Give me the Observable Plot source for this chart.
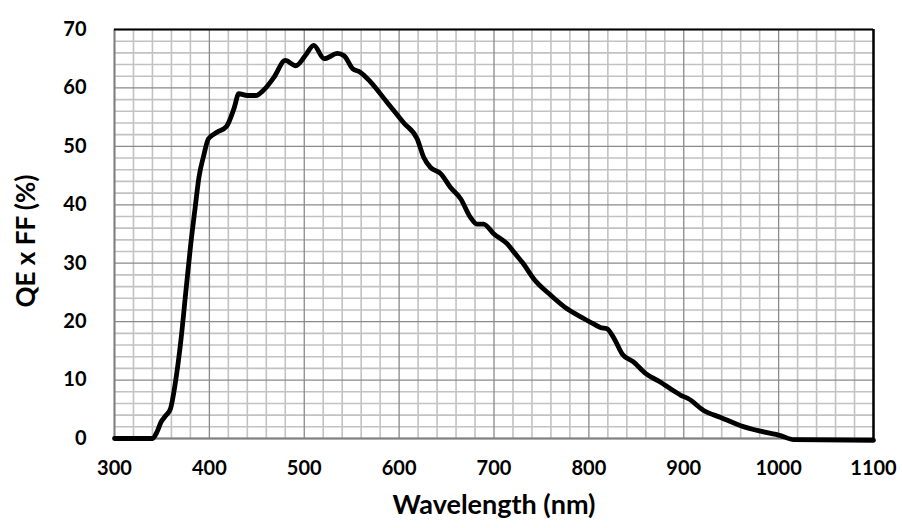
<!DOCTYPE html>
<html>
<head>
<meta charset="utf-8">
<script src="https://cdn.jsdelivr.net/npm/d3@7"></script>
<script src="https://cdn.jsdelivr.net/npm/@observablehq/plot@0.6"></script>
<style>
  html, body { margin: 0; padding: 0; background: #fff; }
</style>
</head>
<body>
<div id="chart"></div>
<script>
// Wavelength (nm) and QE x FF (%)
const wavelength = [300, 340, 345, 349, 354, 359, 364, 370, 375, 380, 385, 389, 394, 399, 408, 418, 426, 431, 440, 449, 457, 468, 480, 491, 501, 510, 521, 535, 542, 551, 559, 570, 587, 605, 619, 626, 633, 644, 654, 665, 675, 682, 689, 700, 714, 721, 731, 742, 760, 777, 795, 805, 812, 819, 826, 832, 835, 847, 860, 876, 886, 897, 905, 921, 939, 960, 981, 1002, 1016, 1100];
const qeff = [0, 0, 1.2, 2.8, 3.9, 5.1, 9.4, 16.8, 24.8, 32.7, 39.5, 44.7, 48.4, 51.3, 52.4, 53.4, 56.5, 59, 58.7, 58.7, 59.6, 61.8, 64.7, 63.8, 65.5, 67.3, 65, 65.9, 65.5, 63.3, 62.7, 61, 57.6, 54, 51.3, 48.1, 46.4, 45.3, 43, 41, 37.9, 36.7, 36.7, 35, 33.3, 31.9, 29.9, 27.3, 24.5, 22.2, 20.5, 19.6, 19, 18.8, 17.3, 15.4, 14.5, 13.1, 11.1, 9.6, 8.5, 7.4, 6.8, 4.8, 3.6, 2.2, 1.25, 0.5, -0.2, -0.3];

const xTicks = [300, 400, 500, 600, 700, 800, 900, 1000, 1100];
const yTicks = [0, 10, 20, 30, 40, 50, 60, 70];
const xMinorStep = 20;
const yMinorStep = 2;
const xLabel = "Wavelength (nm)";
const yLabel = "QE x FF (%)";

const data = wavelength.map((w, i) => ({w, q: qeff[i]}));
const xMinor = d3.range(xTicks[0], xTicks[xTicks.length - 1] + 1, xMinorStep).filter(v => !xTicks.includes(v));
const yMinor = d3.range(yTicks[0], yTicks[yTicks.length - 1] + 1, yMinorStep).filter(v => !yTicks.includes(v));

const chart = Plot.plot({
  width: 902,
  height: 528,
  marginLeft: 114,
  marginRight: 29,
  marginTop: 29,
  marginBottom: 90,
  style: {fontFamily: "Lato, 'Open Sans', sans-serif", fontSize: "20px", fontWeight: "bold", color: "#000", background: "#fff"},
  x: {domain: [300, 1100]},
  y: {domain: [0, 70]},
  marks: [
    Plot.ruleX(xMinor, {stroke: "#c2c2c2", strokeWidth: 1.6}),
    Plot.ruleY(yMinor, {stroke: "#c2c2c2", strokeWidth: 1.6}),
    Plot.ruleX(xTicks, {stroke: "#8a8a8a", strokeWidth: 1.3}),
    Plot.ruleY(yTicks, {stroke: "#8a8a8a", strokeWidth: 1.3}),
    Plot.ruleX([300], {stroke: "#808080", strokeWidth: 2}),
    Plot.ruleY([0], {stroke: "#808080", strokeWidth: 2}),
    Plot.ruleY([70], {stroke: "#000", strokeWidth: 2}),
    Plot.ruleX([1100], {stroke: "#000", strokeWidth: 2.5}),
    Plot.axisX({ticks: xTicks, tickFormat: d => String(d), tickSize: 0, tickPadding: 22, label: null, fontWeight: "bold"}),
    Plot.axisY({ticks: yTicks, tickFormat: d => String(d), tickSize: 0, tickPadding: 28, label: null, fontWeight: "bold"}),
    Plot.line(data, {x: "w", y: "q", stroke: "#000", strokeWidth: 4.8, curve: "monotone-x", strokeLinejoin: "round", strokeLinecap: "round"}),
    Plot.text([xLabel], {frameAnchor: "bottom", textAnchor: "middle", lineAnchor: "middle", dy: 67, fontSize: 27, fontWeight: "bold", fill: "#000"}),
    Plot.text([yLabel], {frameAnchor: "left", textAnchor: "middle", lineAnchor: "middle", dx: -88, dy: 7, rotate: -90, fontSize: 26, fontWeight: "bold", fill: "#000"})
  ]
});
document.getElementById("chart").appendChild(chart);
</script>
</body>
</html>
